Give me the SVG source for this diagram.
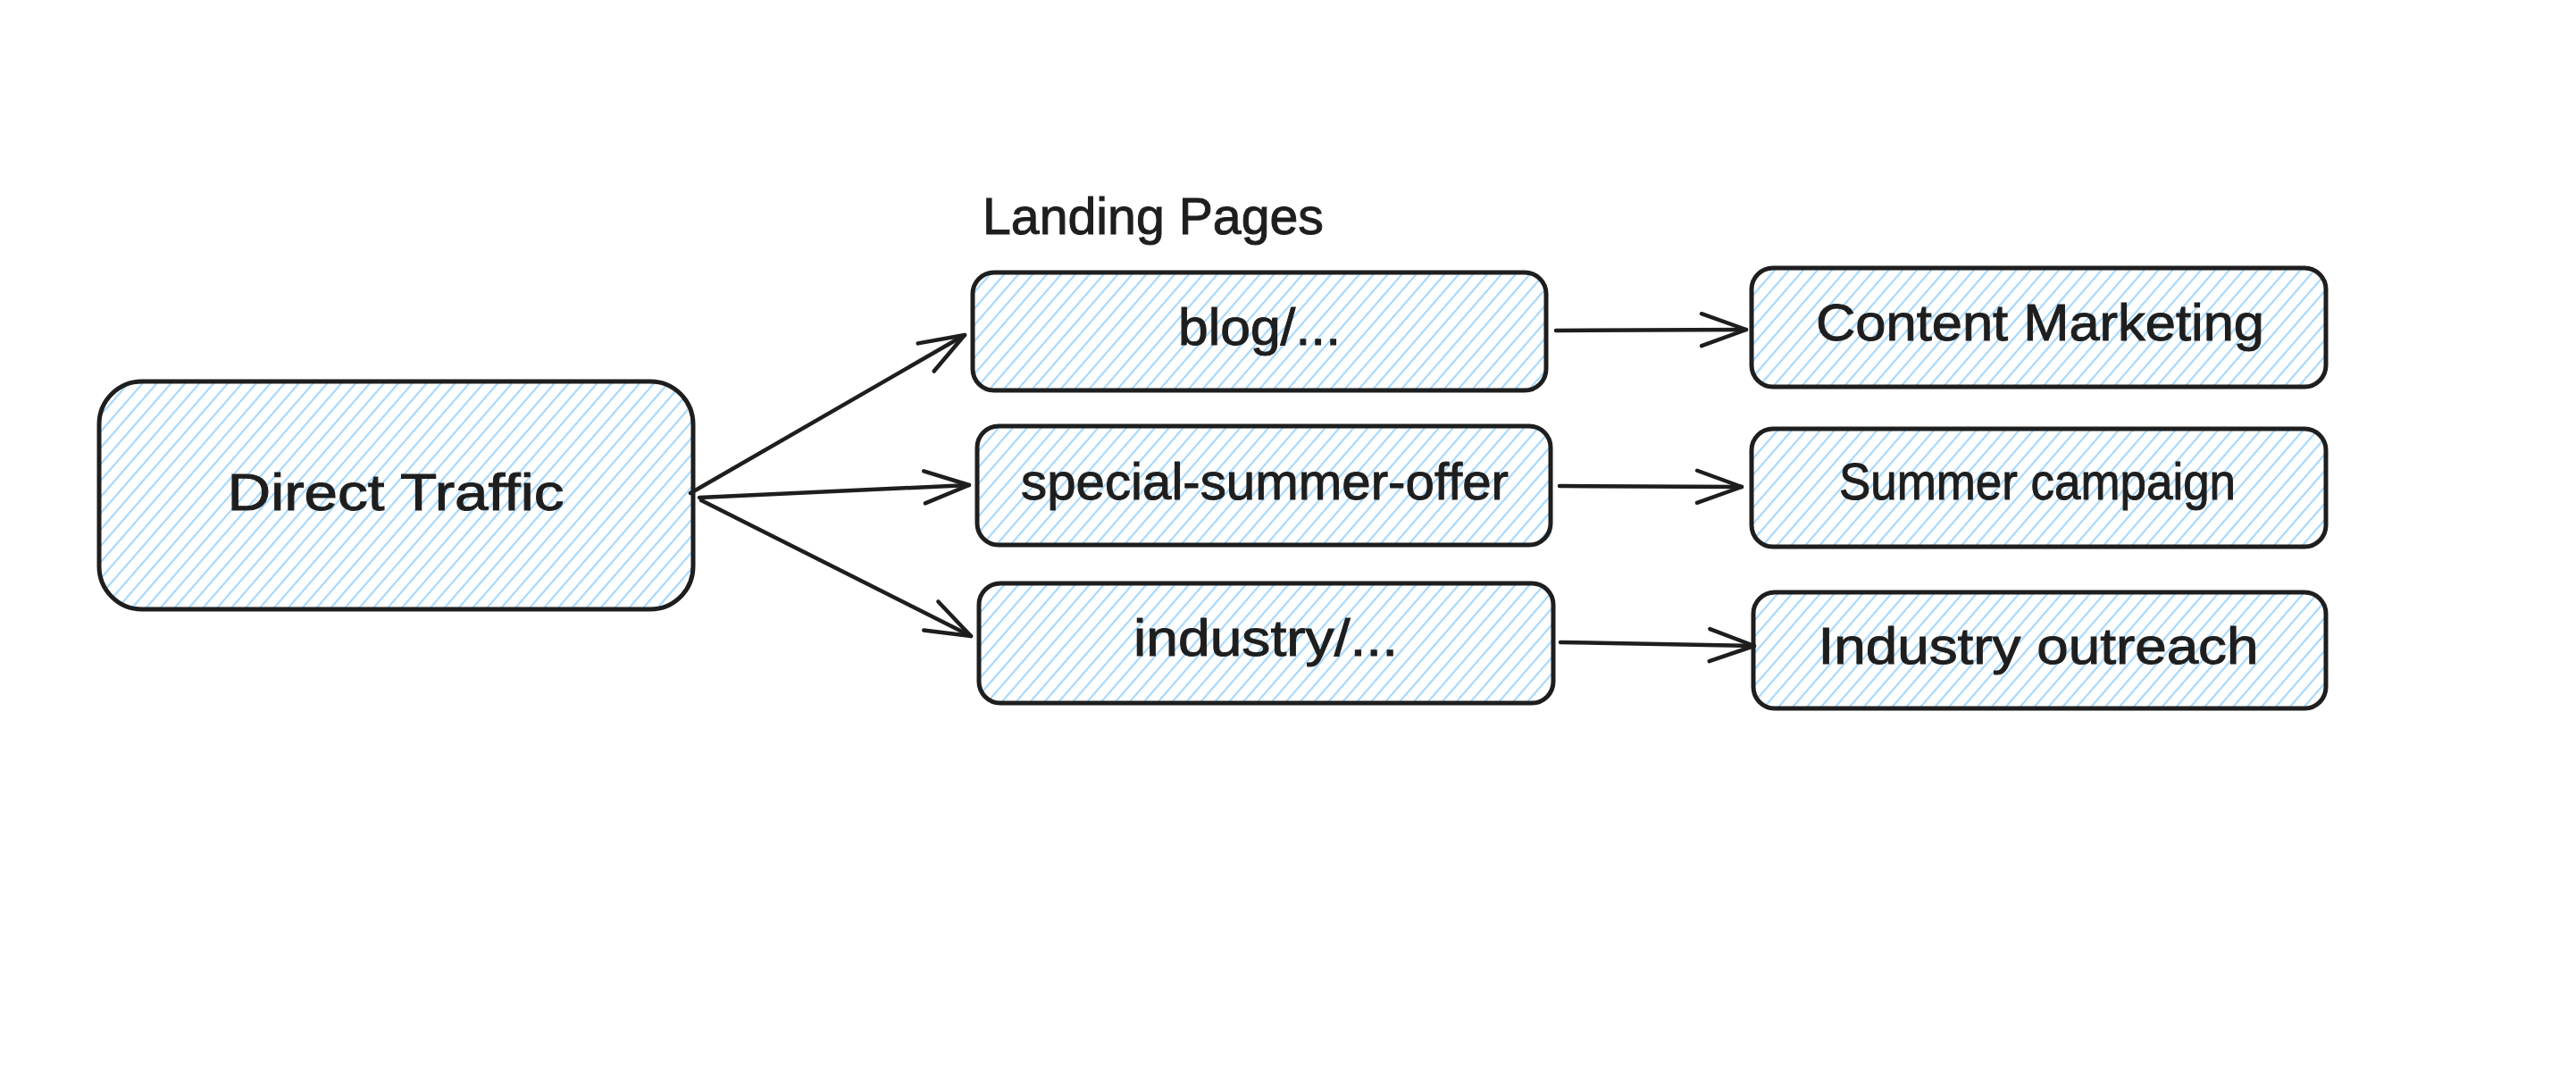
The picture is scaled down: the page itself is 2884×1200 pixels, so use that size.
<svg xmlns="http://www.w3.org/2000/svg" width="2884" height="1200" viewBox="0 0 2884 1200">
  <style>
    .box { fill: url(#hatch); stroke: #1e1e1e; stroke-width: 5; }
    .lbl { font-family: "Liberation Sans", Arial, sans-serif; font-size: 58px; fill: #1e1e1e; text-anchor: middle; stroke: #1e1e1e; stroke-width: 1; }
    .title { font-family: "Liberation Sans", Arial, sans-serif; font-size: 58px; fill: #1e1e1e; stroke: #1e1e1e; stroke-width: 1; }
    .conn { fill: none; stroke: #1e1e1e; stroke-width: 4.5; stroke-linecap: round; marker-end: url(#ah); }
  </style>
  <defs>
    <pattern id="hatch" patternUnits="userSpaceOnUse" width="12" height="12" patternTransform="rotate(41)">
      <line x1="6" y1="-1" x2="6" y2="13" stroke="#a5d8ff" stroke-width="2.2"/>
    </pattern>
    <marker id="ah" markerUnits="userSpaceOnUse" viewBox="-60 -30 80 60" markerWidth="80" markerHeight="60" refX="0" refY="0" orient="auto" overflow="visible">
      <path d="M-50,-18 L0,0 L-50,18" fill="none" stroke="#1e1e1e" stroke-width="4.5" stroke-linecap="round" stroke-linejoin="round"/>
    </marker>
  </defs>
  <rect width="2884" height="1200" fill="#ffffff"/>

  <text class="title" x="1100" y="262" textLength="382" lengthAdjust="spacingAndGlyphs">Landing Pages</text>

  <g id="connectors">
    <path class="conn" d="M773,552 L1080,375"/>
    <path class="conn" d="M783,557 L1085,543"/>
    <path class="conn" d="M785,560 L1087,712"/>
    <path class="conn" d="M1742,370 L1955,369"/>
    <path class="conn" d="M1746,544 L1950,545"/>
    <path class="conn" d="M1747,719 L1964,723"/>
  </g>

  <g id="direct-traffic">
    <rect class="box" x="111" y="427" width="665" height="255" rx="48" ry="48"/>
    <text class="lbl" x="443" y="571" textLength="377" lengthAdjust="spacingAndGlyphs">Direct Traffic</text>
  </g>
  <g id="blog">
    <rect class="box" x="1089" y="305" width="642" height="132" rx="24" ry="24"/>
    <text class="lbl" x="1410" y="386" textLength="182" lengthAdjust="spacingAndGlyphs">blog/...</text>
  </g>
  <g id="special-summer-offer">
    <rect class="box" x="1094" y="477" width="642" height="133" rx="24" ry="24"/>
    <text class="lbl" x="1416" y="559" textLength="546" lengthAdjust="spacingAndGlyphs">special-summer-offer</text>
  </g>
  <g id="industry">
    <rect class="box" x="1096" y="653" width="643" height="134" rx="24" ry="24"/>
    <text class="lbl" x="1417" y="734" textLength="296" lengthAdjust="spacingAndGlyphs">industry/...</text>
  </g>
  <g id="content-marketing">
    <rect class="box" x="1961" y="300" width="643" height="133" rx="24" ry="24"/>
    <text class="lbl" x="2284" y="381" textLength="502" lengthAdjust="spacingAndGlyphs">Content Marketing</text>
  </g>
  <g id="summer-campaign">
    <rect class="box" x="1961" y="480" width="643" height="132" rx="24" ry="24"/>
    <text class="lbl" x="2281" y="559" textLength="444" lengthAdjust="spacingAndGlyphs">Summer campaign</text>
  </g>
  <g id="industry-outreach">
    <rect class="box" x="1963" y="663" width="641" height="130" rx="24" ry="24"/>
    <text class="lbl" x="2282" y="743" textLength="493" lengthAdjust="spacingAndGlyphs">Industry outreach</text>
  </g>
</svg>
